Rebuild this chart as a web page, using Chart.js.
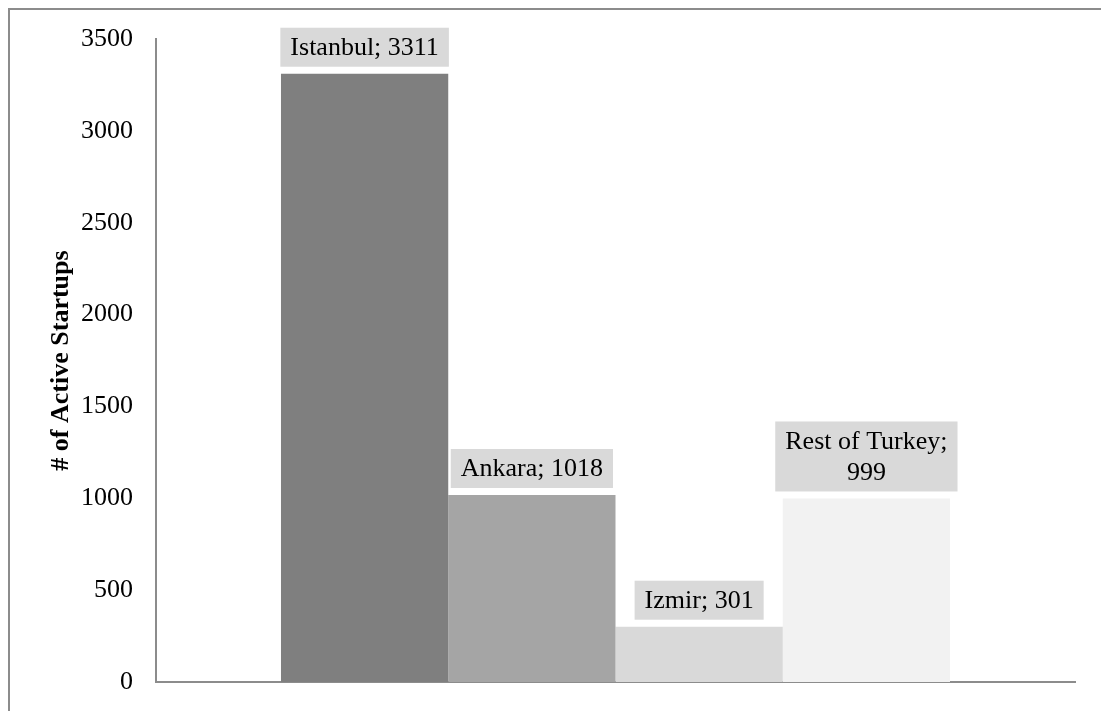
<!DOCTYPE html>
<html>
<head>
<meta charset="utf-8">
<script src="https://cdn.jsdelivr.net/npm/chart.js@4.4.1/dist/chart.umd.min.js"></script>
<style>
    html, body { margin: 0; padding: 0; background: #fff; overflow: hidden; }
    #wrap { position: relative; width: 1101px; height: 711px; }
    #frame {
        position: absolute; left: 8px; top: 8px; width: 1200px; height: 800px;
        border: 2px solid #8c8c8c; box-sizing: border-box;
    }
    canvas { position: absolute; left: 0; top: 0; }
</style>
</head>
<body>
<div id="wrap">
    <div id="frame"></div>
    <canvas id="chart" width="1101" height="711"></canvas>
</div>
<script>
// city names and startup counts
const cities = ['Istanbul', 'Ankara', 'Izmir', 'Rest of Turkey'];
const startups = [3311, 1018, 301, 999];
const barColors = ['#7f7f7f', '#a5a5a5', '#d9d9d9', '#f2f2f2'];
const yTicks = [0, 500, 1000, 1500, 2000, 2500, 3000, 3500];

const FONT = "'Liberation Serif', 'Times New Roman', serif";

// gray boxes with "City; value" above each bar
const barLabels = {
    id: 'barLabels',
    afterDatasetsDraw(chart) {
        const ctx = chart.ctx;
        ctx.save();
        ctx.font = '26px ' + FONT;
        ctx.textAlign = 'center';
        ctx.textBaseline = 'middle';
        chart.data.datasets.forEach((ds, i) => {
            const bar = chart.getDatasetMeta(i).data[0];
            const full = ds.label + '; ' + ds.data[0];
            let lines = [full];
            // wrap when the label is wider than the bar
            if (ctx.measureText(full).width + 18 > bar.width) {
                lines = [ds.label + ';', String(ds.data[0])];
            }
            const textW = Math.max(...lines.map(l => ctx.measureText(l).width));
            const boxW = textW + 20;
            const lineH = 31;
            const boxH = lines.length * lineH + 8;
            const bottom = bar.y - 7;
            ctx.fillStyle = '#d9d9d9';
            ctx.fillRect(bar.x - boxW / 2, bottom - boxH, boxW, boxH);
            ctx.fillStyle = '#000';
            lines.forEach((l, k) => {
                ctx.fillText(l, bar.x, bottom - boxH + 4 + lineH * (k + 0.5) + 1);
            });
        });
        ctx.restore();
    }
};

const chart = new Chart(document.getElementById('chart').getContext('2d'), {
    type: 'bar',
    data: {
        labels: [''],
        datasets: cities.map((c, i) => ({
            label: c,
            data: [startups[i]],
            backgroundColor: barColors[i],
            borderWidth: 0,
            barPercentage: 1,
            categoryPercentage: 0.728
        }))
    },
    options: {
        responsive: false,
        animation: false,
        layout: {
            padding: { left: 0, right: 26, top: 39, bottom: 29 }
        },
        plugins: {
            legend: { display: false },
            tooltip: { enabled: false }
        },
        scales: {
            x: {
                afterFit(scale) {
                    scale.height = 0;
                },
                grid: { display: false },
                border: { display: true, color: '#8c8c8c', width: 2 },
                ticks: { display: false }
            },
            y: {
                min: 0,
                max: 3500,
                afterBuildTicks(scale) {
                    scale.ticks = yTicks.map(v => ({ value: v }));
                },
                afterFit(scale) {
                    scale.width = 156;
                    scale.paddingBottom = 0;
                },
                grid: { display: false },
                border: { display: true, color: '#8c8c8c', width: 2 },
                ticks: {
                    padding: 15,
                    color: '#000',
                    font: { family: FONT, size: 26, lineHeight: 1 },
                    callback: v => String(v)
                },
                title: {
                    display: true,
                    text: '# of Active Startups',
                    color: '#000',
                    padding: { top: 46, bottom: 0 },
                    font: { family: FONT, size: 26, weight: 'bold' }
                }
            }
        }
    },
    plugins: [barLabels]
});
</script>
</body>
</html>
